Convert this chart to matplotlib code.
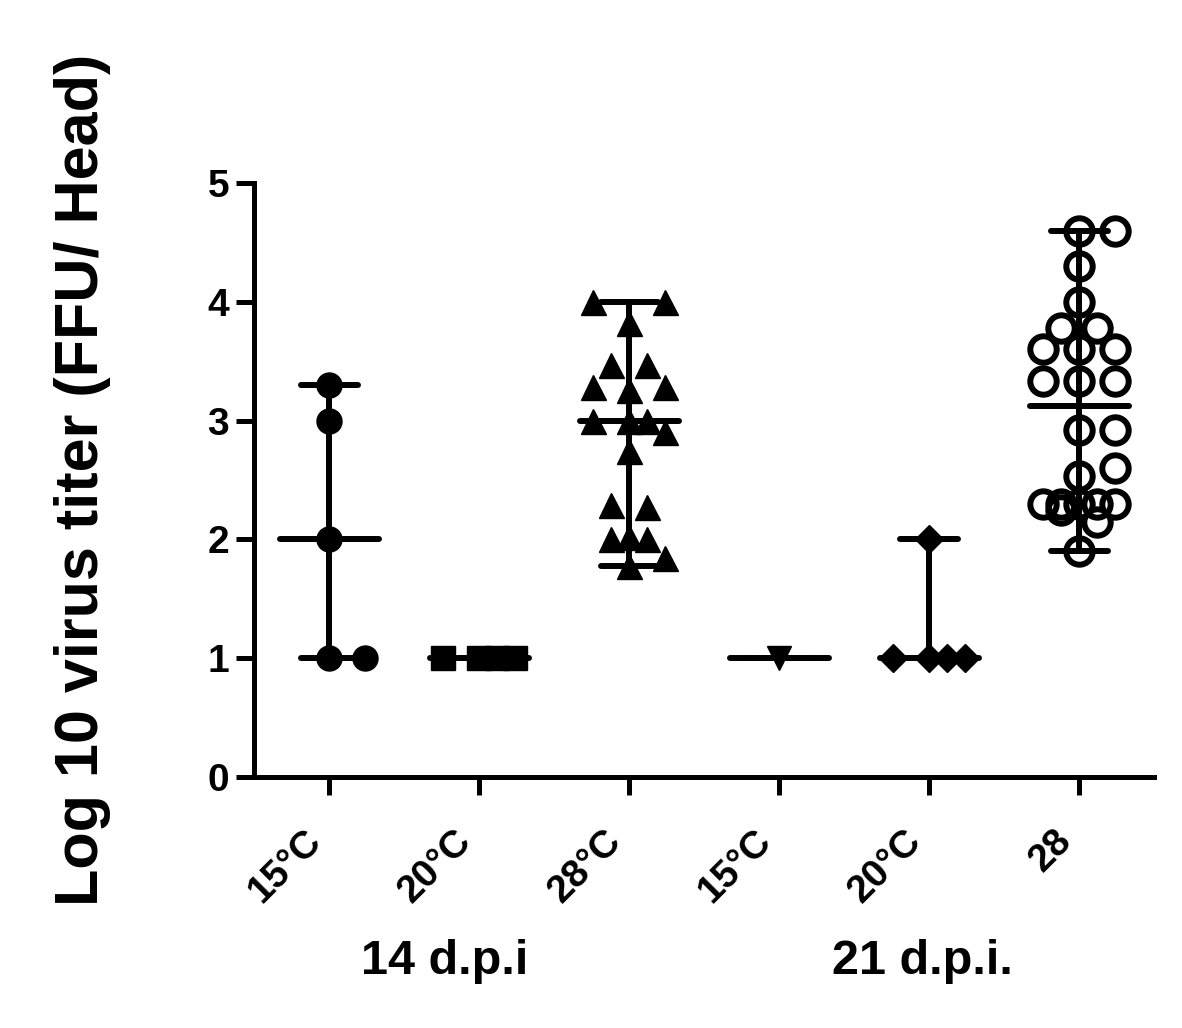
import numpy as np
import matplotlib
matplotlib.use("Agg")
import matplotlib.pyplot as plt

plt.rcParams['font.family'] = ['Liberation Sans', 'DejaVu Sans']
plt.rcParams['font.weight'] = 'bold'

# ---------------- data ----------------
categories = ['15°C', '20°C', '28°C', '15°C', '20°C', '28']
timepoints = ['14 d.p.i', '21 d.p.i.']
ylabel = 'Log 10 virus titer (FFU/ Head)'

d14_15C = [1.0, 1.0, 2.0, 3.0, 3.3]
d14_20C = [1.0, 1.0, 1.0, 1.0]
d14_28C = [4.0, 4.0, 3.82, 3.47, 3.47, 3.28, 3.28, 3.26, 3.0, 3.0, 3.0, 2.9,
           2.74, 2.29, 2.27, 2.02, 2.0, 2.0, 1.84, 1.78]
d21_15C = [1.0]
d21_20C = [1.0, 1.0, 1.0, 1.0, 2.0]
d21_28C = [4.6, 4.6, 4.3, 4.0, 3.78, 3.78, 3.6, 3.6, 3.6, 3.33, 3.33, 3.33,
           2.92, 2.92, 2.6, 2.53, 2.3, 2.3, 2.3, 2.3, 2.3, 2.25, 2.15, 1.9]
groups = [d14_15C, d14_20C, d14_28C, d21_15C, d21_20C, d21_28C]
yticks = [0, 1, 2, 3, 4, 5]

# ---------------- styles ----------------
styles = [
    dict(marker='o', ms=18, mfc='black', mec='black', mew=1),
    dict(marker='s', ms=17, mfc='black', mec='black', mew=1),
    dict(marker='^', ms=18, mfc='black', mec='black', mew=1),
    dict(marker='v', ms=17, mfc='black', mec='black', mew=1),
    dict(marker='D', ms=14.5, mfc='black', mec='black', mew=1),
    dict(marker='o', ms=19, mfc='none', mec='black', mew=4.3),
]

W, H = 1182, 1028
fig = plt.figure(figsize=(W / 100, H / 100), dpi=100)
ax = fig.add_axes([254 / W, 251 / H, 900 / W, 594 / H])
ax.set_xlim(0.5, 6.5)
ax.set_ylim(0, 5)

XPX = 900 / 6.0   # pixels per category unit
YPX = 594 / 5.0   # pixels per y unit


def swarm(values, step=18.0, dmin=30.0):
    vals = np.asarray(values, dtype=float)
    order = np.argsort(vals, kind='stable')
    placed = []
    offs = np.zeros(len(vals))
    cands = [0, 1, -1, 2, -2]
    for i in order:
        y = vals[i] * YPX
        chosen = None
        bestx, bestd = 0.0, -1.0
        for c in cands:
            x = c * step
            d = min([np.hypot(x - px, y - py) for px, py in placed], default=1e9)
            if d >= dmin:
                chosen = x
                break
            if d > bestd:
                bestd, bestx = d, x
        if chosen is None:
            chosen = bestx
        placed.append((chosen, y))
        offs[i] = chosen / XPX
    return offs


LW = 4.3
positions = np.arange(1, len(groups) + 1)
for pos, vals, st in zip(positions, groups, styles):
    vals = np.asarray(vals, dtype=float)
    offs = swarm(vals)
    ax.plot(pos + offs, vals, ls='none', color='black', zorder=3, clip_on=False, **st)
    lo, hi, med = vals.min(), vals.max(), np.median(vals)
    kw = dict(color='black', lw=LW, solid_capstyle='round', zorder=4, clip_on=False)
    ax.plot([pos, pos], [lo, hi], **kw)
    ax.plot([pos - 0.19, pos + 0.19], [hi, hi], **kw)
    ax.plot([pos - 0.19, pos + 0.19], [lo, lo], **kw)
    ax.plot([pos - 0.33, pos + 0.33], [med, med], **kw)

for s in ['top', 'right']:
    ax.spines[s].set_visible(False)
for s in ['left', 'bottom']:
    ax.spines[s].set_linewidth(3.6)

ax.set_yticks(yticks)
ax.set_yticklabels([str(t) for t in yticks], fontsize=28, fontweight='bold')
ax.set_xticks(positions)
ax.set_xticklabels(categories, rotation=45, ha='right', fontsize=28,
                   fontweight='bold')
ax.tick_params(axis='both', direction='out', length=13, width=3.6)
ax.tick_params(axis='y', pad=5)
ax.tick_params(axis='x', pad=20)

fig.text(445 / W, 1 - 962 / H, timepoints[0], ha='center', va='center',
         fontsize=35, fontweight='bold')
fig.text(922 / W, 1 - 962 / H, timepoints[1], ha='center', va='center',
         fontsize=35, fontweight='bold')
fig.text(83 / W, 1 - 480 / H, ylabel, rotation=90, ha='center', va='center',
         fontsize=44, fontweight='bold')

fig.savefig('out.png', dpi=100, facecolor='white')
